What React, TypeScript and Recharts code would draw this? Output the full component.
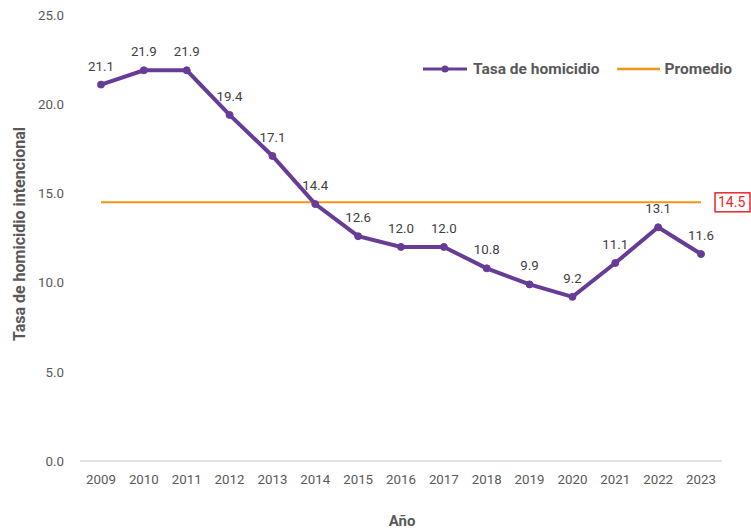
import React from 'react';
import { LineChart, Line, XAxis, YAxis, LabelList, Label } from 'recharts';

const years = ['2009','2010','2011','2012','2013','2014','2015','2016','2017','2018','2019','2020','2021','2022','2023'];
const tasa = [21.1, 21.9, 21.9, 19.4, 17.1, 14.4, 12.6, 12.0, 12.0, 10.8, 9.9, 9.2, 11.1, 13.1, 11.6];
const promedio = [14.5, 14.5, 14.5, 14.5, 14.5, 14.5, 14.5, 14.5, 14.5, 14.5, 14.5, 14.5, 14.5, 14.5, 14.5];
const yTicks = [0, 5, 10, 15, 20, 25];

const data = years.map((y, i) => ({ year: y, tasa: tasa[i], promedio: promedio[i] }));

const PURPLE = '#663c97';
const ORANGE = '#f39512';
const FONT = 'Roboto, sans-serif';

const AvgLabel = (props: any) => {
  const { x, y, value, index } = props;
  if (index !== years.length - 1) return null;
  const bx = x + 14;
  return (
    <g>
      <rect x={bx} y={y - 9.5} width={35} height={19} fill="#fff" stroke="#e8262b" strokeWidth={1.5} />
      <text x={bx + 3} y={y} dy="0.36em" fill="#e8262b" fontSize={14} fontFamily={FONT}>
        {Number(value).toFixed(1)}
      </text>
    </g>
  );
};

const LegendBox = () => (
  <div style={{ position: 'absolute', left: 423, top: 60, display: 'flex', alignItems: 'center', fontFamily: FONT, fontWeight: 700, fontSize: 15.5, color: '#595959', whiteSpace: 'nowrap' }}>
    <svg width={44} height={10} style={{ marginRight: 6 }}>
      <line x1={0} y1={5} x2={44} y2={5} stroke={PURPLE} strokeWidth={3} />
      <circle cx={22} cy={5} r={3.5} fill={PURPLE} />
    </svg>
    <span>Tasa de homicidio</span>
    <svg width={43} height={10} style={{ marginLeft: 17, marginRight: 5 }}>
      <line x1={0} y1={5} x2={43} y2={5} stroke={ORANGE} strokeWidth={2.5} />
    </svg>
    <span>Promedio</span>
  </div>
);

export default function App() {
  return (
    <div style={{ position: 'absolute', left: 0, top: 0, width: 751, height: 531, background: '#fff' }}>
      <LineChart width={751} height={531} data={data} margin={{ top: 15, right: 29, left: 0, bottom: 40 }}>
        <XAxis
          dataKey="year"
          tickLine={false}
          axisLine={{ stroke: '#d9d9d9', strokeWidth: 1.5 }}
          tick={{ fill: '#595959', fontSize: 13.3, fontFamily: FONT }}
          tickMargin={8}
          height={30}
          interval={0}
          padding={{ left: 21, right: 21 }}
        >
          <Label
            content={() => (
              <text x={402} y={521} textAnchor="middle" dy="0.36em" fill="#595959" fontSize={15} fontWeight={700} fontFamily={FONT}>
                Año
              </text>
            )}
          />
        </XAxis>
        <YAxis
          domain={[0, 25]}
          ticks={yTicks}
          width={80}
          tickLine={false}
          axisLine={false}
          tickFormatter={(v: number) => v.toFixed(1)}
          tick={{ fill: '#595959', fontSize: 13.3, fontFamily: FONT }}
          tickMargin={10}
        >
          <Label
            content={() => (
              <text x={19} y={234} textAnchor="middle" dy="0.36em" transform="rotate(-90 19 234)" fill="#595959" fontSize={16} fontWeight={700} fontFamily={FONT}>
                Tasa de homicidio intencional
              </text>
            )}
          />
        </YAxis>
        <Line
          type="linear"
          dataKey="promedio"
          stroke={ORANGE}
          strokeWidth={2}
          dot={false}
          activeDot={false}
          isAnimationActive={false}
        >
          <LabelList dataKey="promedio" content={<AvgLabel />} />
        </Line>
        <Line
          type="linear"
          dataKey="tasa"
          stroke={PURPLE}
          strokeWidth={4}
          dot={{ r: 3.5, fill: PURPLE, stroke: PURPLE, strokeWidth: 1 }}
          activeDot={false}
          isAnimationActive={false}
        >
          <LabelList
            dataKey="tasa"
            position="top"
            offset={14}
            formatter={(v: any) => Number(v).toFixed(1)}
            style={{ fill: '#404040', fontSize: 13.3, fontFamily: FONT }}
          />
        </Line>
      </LineChart>
      <LegendBox />
    </div>
  );
}
